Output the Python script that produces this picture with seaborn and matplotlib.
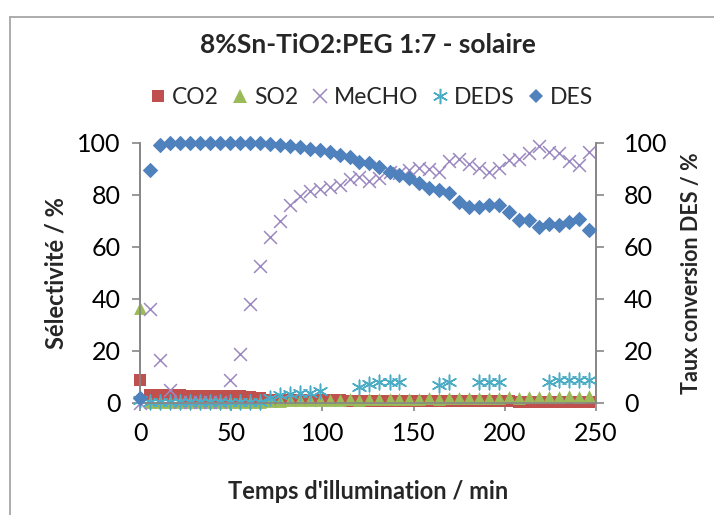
import matplotlib
matplotlib.use("Agg")
import matplotlib.pyplot as plt
import seaborn as sns
from matplotlib.lines import Line2D

nan = float("nan")

# time axis (min) and selectivities (%)
time = [0, 5.5, 10.9, 16.4, 21.9, 27.4, 32.8, 38.3, 43.8, 49.2,
        54.7, 60.2, 65.6, 71.1, 76.6, 82.1, 87.5, 93.0, 98.5, 103.9,
        109.4, 114.9, 120.3, 125.8, 131.3, 136.8, 142.2, 147.7, 153.2, 158.6,
        164.1, 169.6, 175.0, 180.5, 186.0, 191.5, 196.9, 202.4, 207.9, 213.3,
        218.8, 224.3, 229.7, 235.2, 240.7, 246.2]

co2 = [8.8, 3.2, 3.2, 3.1, 2.9, 2.8, 2.8, 2.7, 2.7, 2.6,
       2.6, 2.5, 2.0, 1.3, 1.2, 1.1, 1.1, 1.0, 1.0, 1.0,
       1.0, 0.9, 0.9, 0.9, 0.9, 0.9, 0.8, 0.8, 0.8, 0.8,
       0.8, 0.7, 0.7, 0.7, 0.6, 0.6, 0.6, 0.6, 0.5, 0.5,
       0.5, 0.5, 0.4, 0.4, 0.4, 0.4]

so2 = [36.5, 0.3, 0.2, 0.3, 0.2, 0.3, 0.2, 0.3, 0.2, 0.3,
       0.2, 0.3, 0.4, 0.8, 0.9, 1.1, 1.0, 1.2, 1.1, 1.3,
       1.2, 1.4, 1.3, 1.5, 1.4, 1.6, 1.5, 1.7, 1.6, 1.8,
       1.7, 1.9, 1.8, 2.0, 1.9, 2.1, 2.0, 2.2, 2.1, 2.3,
       2.2, 2.4, 2.3, 2.6, 2.4, 2.8]

mecho = [0.0, 36.0, 16.5, 5.0, 0.5, 0.4, 0.5, 0.4, 0.5, 9.0,
         19.0, 38.0, 52.7, 64.0, 70.0, 76.0, 79.5, 81.5, 82.5, 83.0,
         84.0, 86.0, 87.0, 85.5, 86.5, 89.0, 88.4, 89.5, 90.5, 90.0,
         89.0, 93.0, 94.0, 92.0, 90.5, 89.0, 90.5, 93.5, 94.0, 96.0,
         99.0, 96.5, 96.0, 93.0, 91.5, 96.7]

deds = [1.0, 0.5, 0.4, 0.5, 0.4, 0.5, 0.4, 0.5, 0.4, 0.5,
        0.4, 0.5, 0.5, 2.0, 3.0, 3.5, 4.0, 4.0, 4.5, nan,
        nan, nan, 6.0, 7.5, 8.0, 8.0, 8.0, nan, nan, nan,
        7.0, 8.0, nan, nan, 8.0, 8.0, 8.0, nan, nan, nan,
        nan, 8.0, 9.0, 9.0, 9.0, 9.0]

# conversion of DES (%), secondary axis
des = [2.0, 89.6, 99.2, 100, 100, 100, 100, 100, 100, 100,
       100, 100, 100, 99.8, 99.3, 98.8, 98.5, 97.8, 97.2, 96.5,
       95.4, 94.5, 92.8, 92.2, 90.9, 89.0, 87.7, 86.4, 84.5, 82.6,
       81.9, 80.6, 77.4, 75.5, 75.3, 76.2, 76.2, 73.6, 70.4, 70.4,
       67.6, 69.0, 68.5, 69.7, 70.7, 66.5]

sns.set_style("white")
plt.rcParams["font.family"] = ["Lato", "DejaVu Sans"]

fig = plt.figure(figsize=(7.14, 5.15), dpi=100)
ax = fig.add_axes([140 / 714, 112 / 515, 456 / 714, 260 / 515])
ax2 = ax.twinx()

star = (6, 2, 0)
series = [
    ("CO2", co2, "s", "#C0504D", 64),
    ("SO2", so2, "^", "#9BBB59", 85),
    ("MeCHO", mecho, "x", "#9C88C0", 85),
    ("DEDS", deds, star, "#4BACC6", 110),
]
handles = []
for name, vals, mk, col, size in series:
    lw = 1.1 if mk in ("x", star) else 0
    sns.scatterplot(x=time, y=vals, ax=ax, marker=mk, color=col, s=size,
                    linewidth=lw, clip_on=False, zorder=3)
    handles.append(Line2D([], [], ls="none", marker=mk, color=col,
                          markersize=size ** 0.5 * 1.05, markeredgewidth=lw))

sns.scatterplot(x=time, y=des, ax=ax2, marker="D", color="#4F81BD", s=62,
                linewidth=0, clip_on=False, zorder=3)
handles.append(Line2D([], [], ls="none", marker="D", color="#4F81BD",
                      markersize=7.5, markeredgewidth=0))

gray = "#868686"
for a in (ax, ax2):
    a.set_xlim(0, 250)
    a.set_ylim(0, 100)
    a.set_yticks(range(0, 101, 20))
    a.spines["top"].set_visible(False)
    for s in ("left", "right", "bottom"):
        a.spines[s].set_color(gray)
        a.spines[s].set_linewidth(1.2)
    a.tick_params(axis="both", labelsize=18, colors=gray, labelcolor="black",
                  length=6, width=1.2, direction="out", pad=8)
ax.set_xticks(range(0, 251, 50))
ax.tick_params(right=False, left=True, bottom=True)
ax2.tick_params(right=True, left=False, pad=14)
ax.grid(False)
ax2.grid(False)

ax.set_xlabel("Temps d'illumination / min", fontsize=17, fontweight="bold", labelpad=25)
ax.set_ylabel("Sélectivité / %", fontsize=17, fontweight="bold", labelpad=7)
ax2.set_ylabel("Taux conversion DES / %", fontsize=15.5, fontweight="bold", labelpad=10)

fig.text(0.515, 0.912, "8%Sn-TiO2:PEG 1:7 - solaire", ha="center", va="center",
         fontsize=19, fontweight="bold")
fig.legend(handles, ["CO2", "SO2", "MeCHO", "DEDS", "DES"], loc="center",
           bbox_to_anchor=(0.518, 0.81), ncol=5, frameon=False, fontsize=16.5,
           handletextpad=0.1, columnspacing=0.45, handlelength=1.0)

# chart-area border (left and top edges visible in the reference)
fig.add_artist(Line2D([10 / 714, 10 / 714], [0, 1 - 17 / 515], transform=fig.transFigure,
                      color="#A6A6A6", lw=1.3))
fig.add_artist(Line2D([10 / 714, 1], [1 - 17 / 515, 1 - 17 / 515], transform=fig.transFigure,
                      color="#A6A6A6", lw=1.3))

fig.savefig("out.png", dpi=100)
